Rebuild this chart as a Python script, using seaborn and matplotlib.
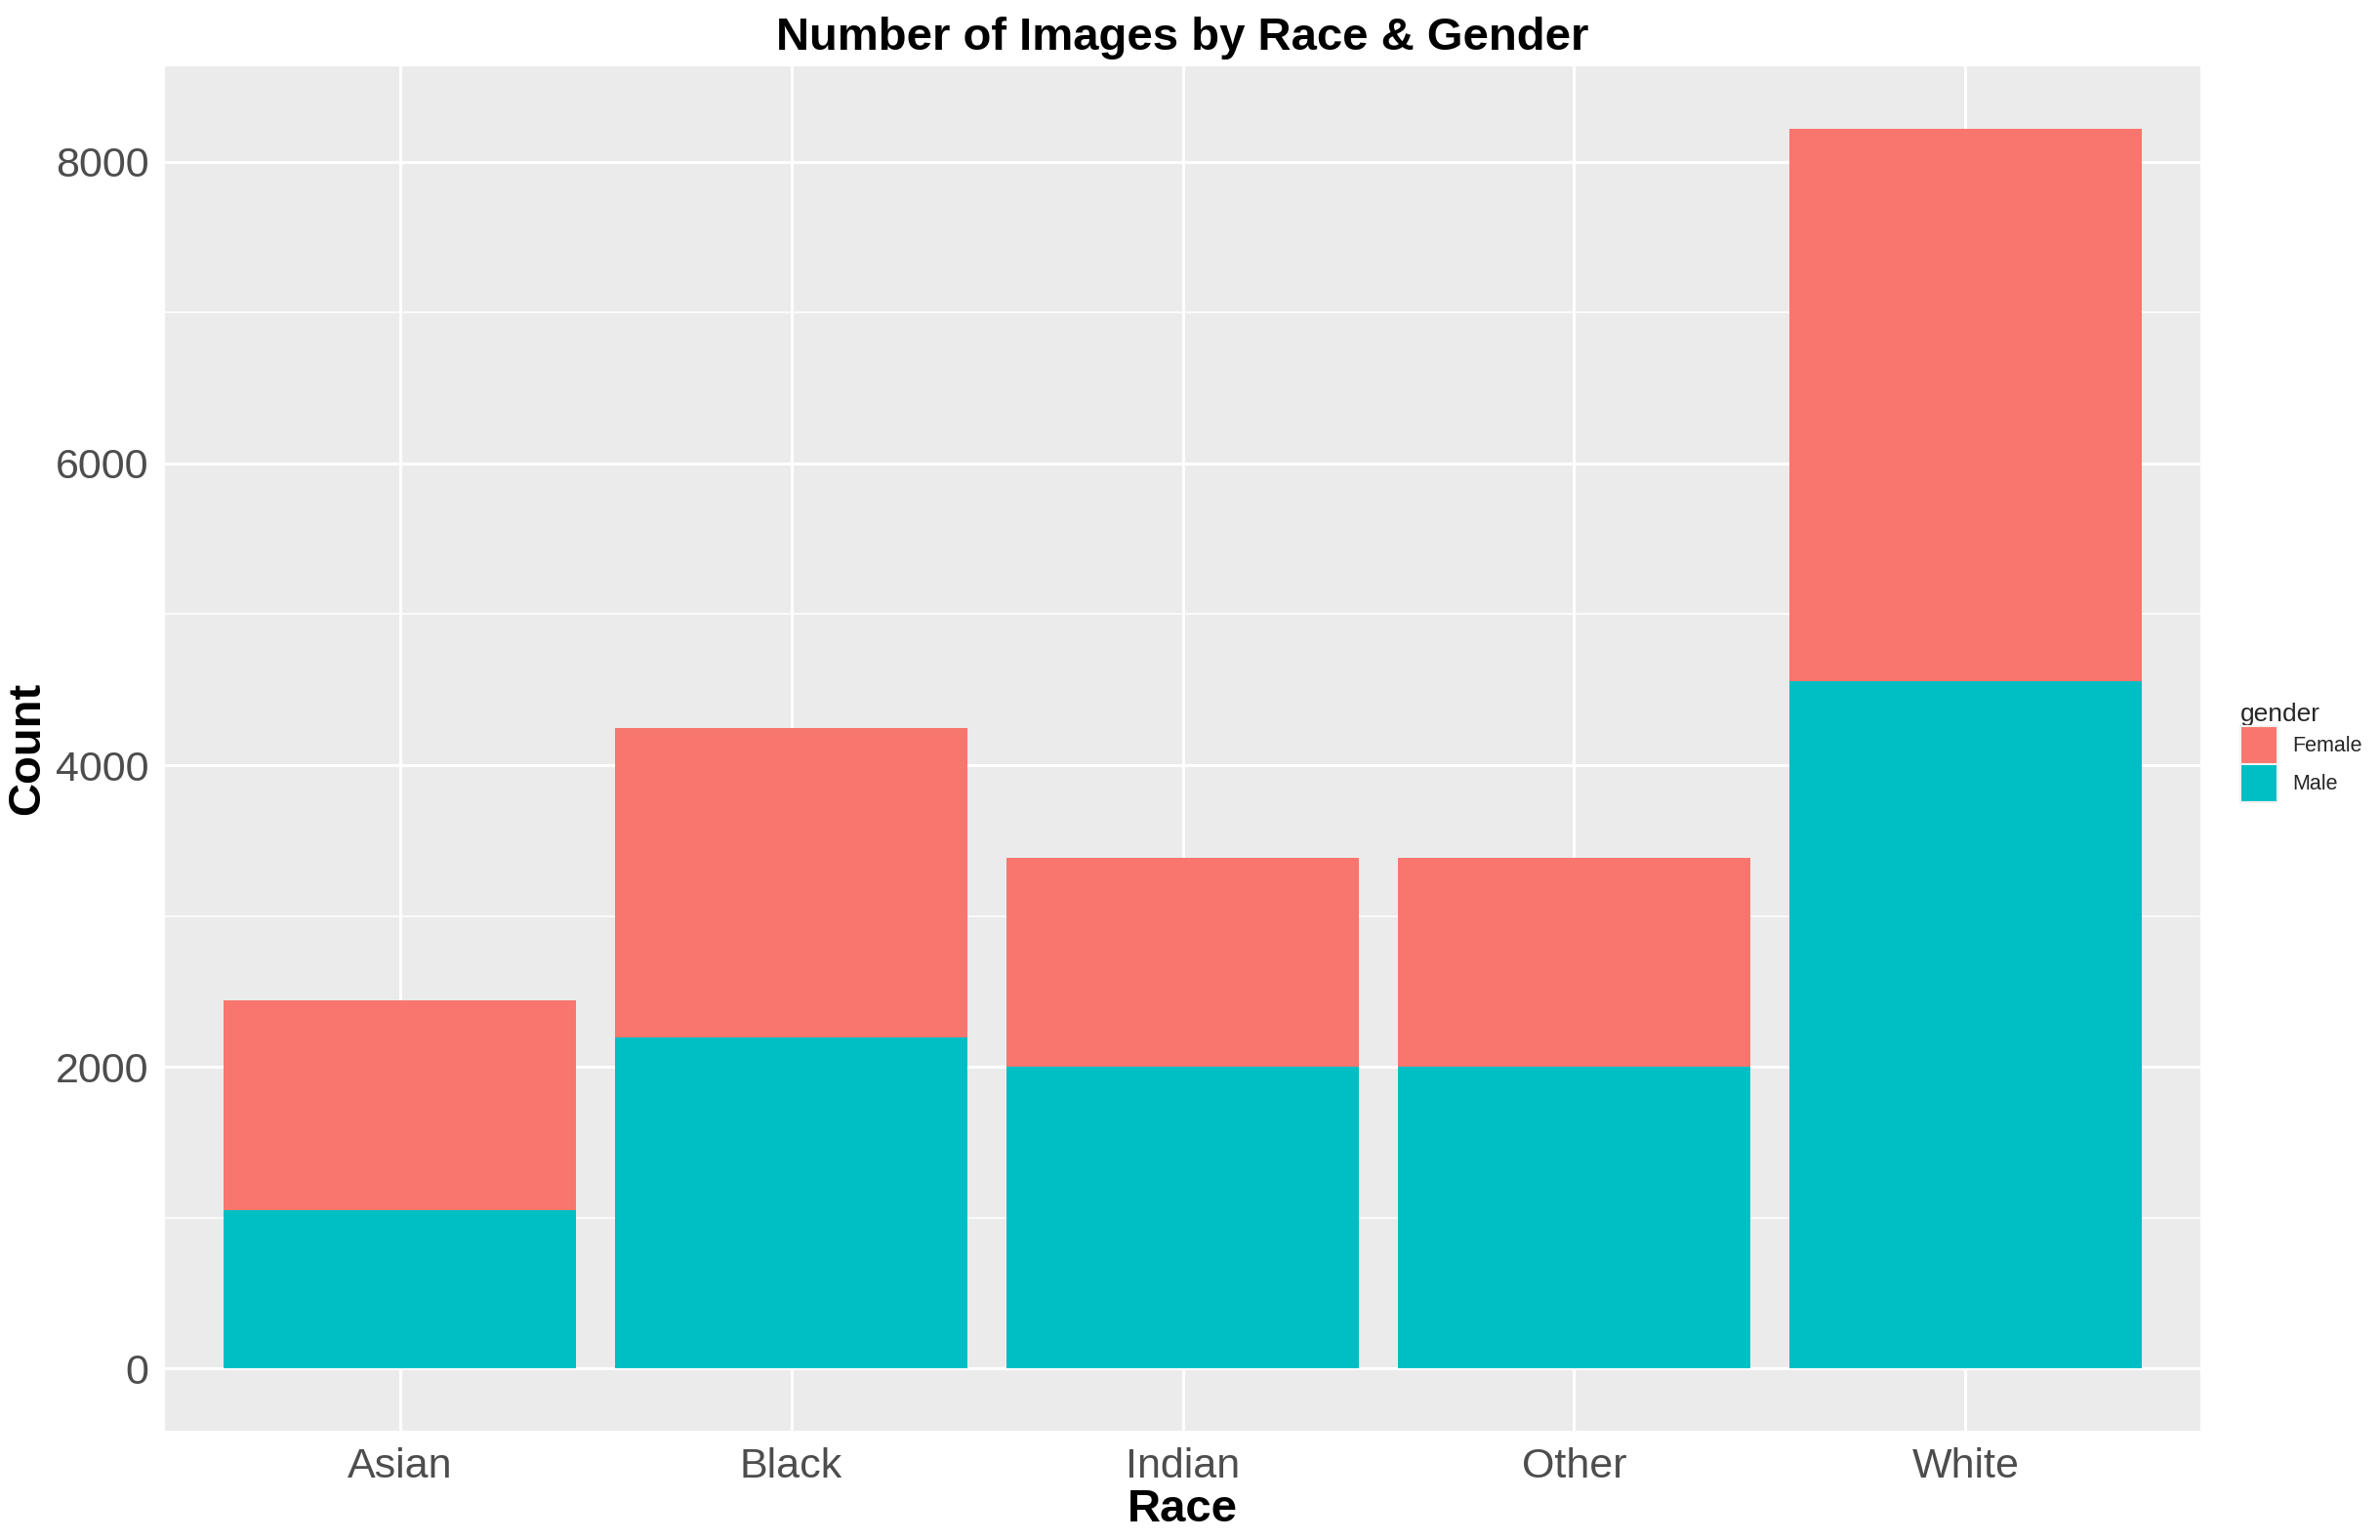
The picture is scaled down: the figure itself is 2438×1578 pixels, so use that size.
import matplotlib
matplotlib.use("Agg")
import matplotlib.pyplot as plt
from matplotlib.patches import Patch
from matplotlib.ticker import MultipleLocator
import seaborn as sns
import pandas as pd

# ---- data ----
races = ["Asian", "Black", "Indian", "Other", "White"]
male_counts = [1050, 2195, 2000, 2000, 4557]
female_counts = [1390, 2050, 1386, 1386, 3663]
genders = ["Female", "Male"]
gender_colors = ["#F8766D", "#00BFC4"]

df = pd.DataFrame({"race": races, "Male": male_counts, "Female": female_counts})
df["total"] = df["Male"] + df["Female"]

# ---- style: ggplot-ish grey panel ----
sns.set_theme(style="darkgrid")
plt.rcParams["font.family"] = ["Liberation Sans", "DejaVu Sans"]

fig = plt.figure(figsize=(24.38, 15.78), dpi=100)
ax = fig.add_axes([169 / 2438, 1 - 1466 / 1578, (2254 - 169) / 2438, (1466 - 68) / 1578])
ax.set_facecolor("#EBEBEB")

# stacked bars: female on top of male
sns.barplot(data=df, x="race", y="total", color=gender_colors[0], width=0.9,
            saturation=1, ax=ax, zorder=2)
sns.barplot(data=df, x="race", y="Male", color=gender_colors[1], width=0.9,
            saturation=1, ax=ax, zorder=3)
for p in ax.patches:
    p.set_edgecolor("none")
    p.set_linewidth(0)

# axis ranges with ggplot expansion
ymax = df["total"].max()
ax.set_ylim(-0.05 * ymax, 1.05 * ymax)
ax.set_xlim(-0.6, len(races) - 0.4)

ax.yaxis.set_major_locator(MultipleLocator(2000))
ax.yaxis.set_minor_locator(MultipleLocator(1000))
ax.grid(which="major", color="white", linewidth=2.2)
ax.grid(which="minor", axis="y", color="white", linewidth=1.1)
ax.grid(which="minor", axis="x", visible=False)
ax.set_axisbelow(True)
for s in ax.spines.values():
    s.set_visible(False)

ax.tick_params(axis="both", which="major", length=8, width=1.8, color="#333333",
               labelsize=31, labelcolor="#4D4D4D", pad=4)
ax.tick_params(axis="both", which="minor", length=0)

ax.set_xlabel("Race", fontsize=34, fontweight="bold", color="black", labelpad=2)
ax.set_ylabel("Count", fontsize=34, fontweight="bold", color="black", labelpad=5)
ax.set_title("Number of Images by Race & Gender", fontsize=34, fontweight="bold",
             color="black", pad=12)

handles = [Patch(facecolor=c, edgecolor="#F2F2F2", linewidth=1.5) for c in gender_colors]
leg = fig.legend(handles, genders, title="gender", loc="center left",
                 bbox_to_anchor=(2286 / 2438, 1 - 771 / 1578), frameon=False,
                 fontsize=15.5, title_fontsize=19, handlelength=1.77, handleheight=2.41,
                 labelspacing=0.0, handletextpad=0.7, borderaxespad=0)
leg._legend_box.align = "left"

fig.savefig("out.png", dpi=100)
